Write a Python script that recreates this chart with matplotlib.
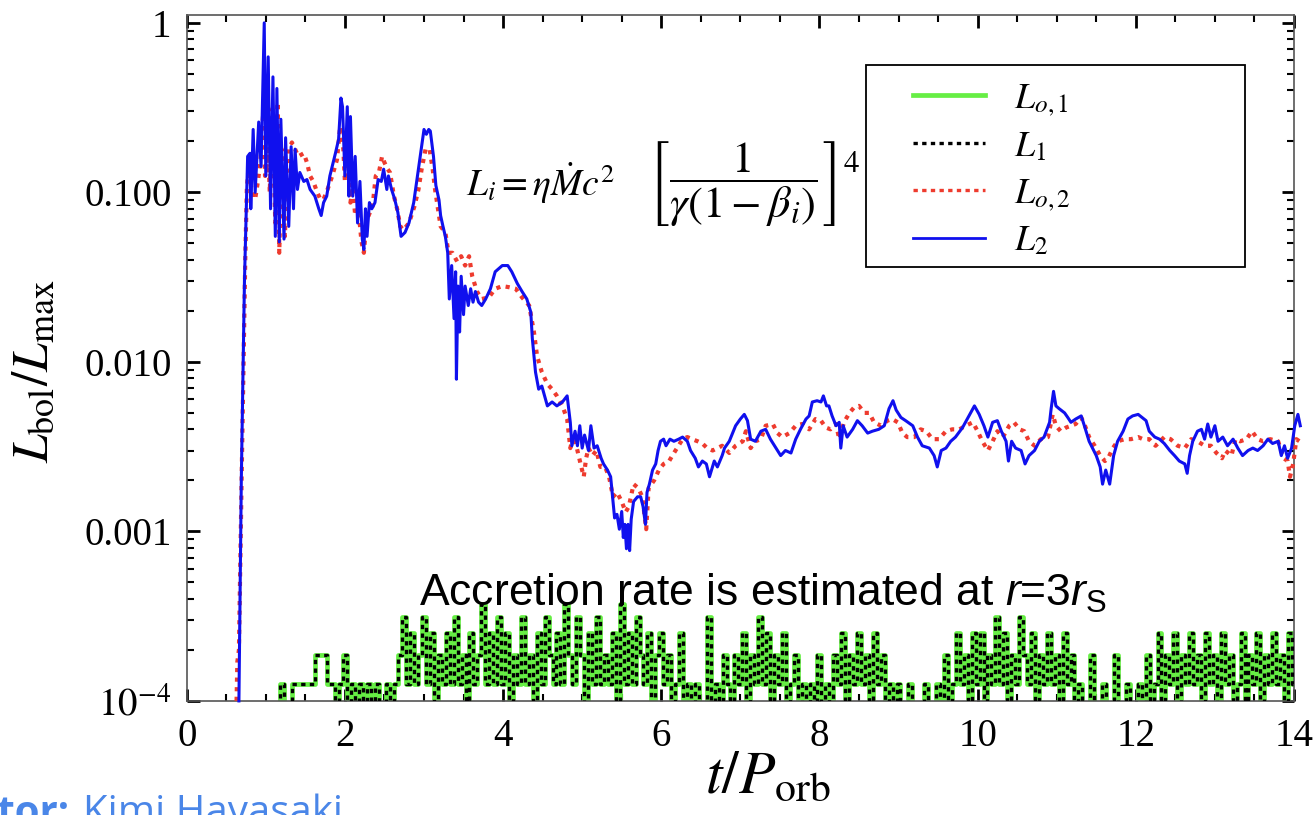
import numpy as np
import matplotlib
matplotlib.use("Agg")
import matplotlib.pyplot as plt
from matplotlib.ticker import MultipleLocator, FixedLocator, FixedFormatter, LogLocator, NullFormatter
from matplotlib.lines import Line2D
from matplotlib.patches import Rectangle

plt.rcParams["font.family"] = "Liberation Serif"
plt.rcParams["mathtext.fontset"] = "stix"
plt.rcParams["mathtext.rm"] = "Liberation Sans"
plt.rcParams["mathtext.it"] = "Liberation Sans:italic"

# L2 (blue)
t_L2 = [0.66, 0.69, 0.73, 0.77, 0.80, 0.81, 0.84, 0.865, 0.91, 0.94, 0.98, 1.00, 1.03, 1.06, 1.09,
        1.12, 1.14, 1.17, 1.19, 1.23, 1.25, 1.29, 1.32, 1.35, 1.37, 1.40, 1.43, 1.48, 1.52, 1.56,
        1.62, 1.67, 1.70, 1.73, 1.77, 1.81, 1.88, 1.92, 1.95, 1.97, 2.00, 2.03, 2.05, 2.07, 2.10,
        2.13, 2.16, 2.19, 2.22, 2.24, 2.26, 2.28, 2.31, 2.34, 2.38, 2.42, 2.46, 2.49, 2.53, 2.55,
        2.59, 2.63, 2.67, 2.71, 2.76, 2.81, 2.87, 2.93, 3.00, 3.03, 3.06, 3.08, 3.12, 3.15, 3.19,
        3.21, 3.24, 3.27, 3.30, 3.32, 3.35, 3.38, 3.40, 3.41, 3.43, 3.45, 3.47, 3.50, 3.52, 3.56,
        3.59, 3.62, 3.65, 3.69, 3.73, 3.78, 3.84, 3.90, 3.99, 4.06, 4.11, 4.18, 4.24, 4.30, 4.35,
        4.37, 4.41, 4.45, 4.49, 4.56, 4.62, 4.68, 4.75, 4.81, 4.85, 4.87, 4.91, 4.94, 4.97, 5.00,
        5.03, 5.08, 5.11, 5.15, 5.19, 5.24, 5.27, 5.32, 5.36, 5.39, 5.41, 5.44, 5.47, 5.50, 5.52,
        5.54, 5.56, 5.58, 5.60, 5.62, 5.65, 5.70, 5.74, 5.77, 5.80, 5.82, 5.85, 5.89, 5.93, 5.96,
        5.99, 6.03, 6.06, 6.11, 6.16, 6.22, 6.27, 6.33, 6.37, 6.43, 6.47, 6.52, 6.57, 6.61, 6.67,
        6.71, 6.77, 6.80, 6.86, 6.94, 7.00, 7.05, 7.09, 7.13, 7.19, 7.26, 7.32, 7.38, 7.45, 7.51,
        7.57, 7.64, 7.70, 7.76, 7.83, 7.87, 7.91, 7.97, 8.02, 8.05, 8.09, 8.12, 8.16, 8.21, 8.25,
        8.27, 8.30, 8.35, 8.42, 8.48, 8.54, 8.61, 8.67, 8.75, 8.82, 8.88, 8.93, 8.97, 9.03, 9.09,
        9.18, 9.24, 9.30, 9.39, 9.45, 9.49, 9.54, 9.60, 9.66, 9.72, 9.81, 9.89, 9.96, 10.02, 10.08,
        10.13, 10.19, 10.25, 10.30, 10.36, 10.39, 10.43, 10.48, 10.55, 10.60, 10.65, 10.72, 10.78, 10.84, 10.91,
        10.93, 10.96, 10.99, 11.03, 11.10, 11.14, 11.18, 11.24, 11.31, 11.35, 11.41, 11.50, 11.55, 11.58, 11.62,
        11.67, 11.72, 11.77, 11.84, 11.90, 11.96, 12.03, 12.08, 12.13, 12.17, 12.24, 12.30, 12.36, 12.43, 12.49,
        12.55, 12.62, 12.65, 12.68, 12.72, 12.78, 12.83, 12.87, 12.91, 12.95, 13.00, 13.04, 13.10, 13.16, 13.23,
        13.29, 13.35, 13.42, 13.48, 13.54, 13.61, 13.67, 13.73, 13.80, 13.84, 13.88, 13.92, 13.97, 14.01, 14.05,
        14.08]
L2 = [1.0e-4, 0.002, 0.03, 0.163, 0.17, 0.08, 0.235, 0.10, 0.26, 0.142, 1.0, 0.125, 0.63, 0.08, 0.48,
      0.055, 0.41, 0.051, 0.27, 0.053, 0.21, 0.063, 0.186, 0.08, 0.18, 0.104, 0.131, 0.116, 0.119, 0.104,
      0.095, 0.080, 0.073, 0.087, 0.095, 0.125, 0.17, 0.205, 0.36, 0.32, 0.125, 0.32, 0.095, 0.28, 0.095,
      0.163, 0.066, 0.116, 0.053, 0.046, 0.08, 0.055, 0.087, 0.08, 0.087, 0.119, 0.116, 0.137, 0.104, 0.125,
      0.104, 0.091, 0.076, 0.055, 0.058, 0.066, 0.087, 0.137, 0.235, 0.22, 0.235, 0.23, 0.163, 0.11, 0.09,
      0.073, 0.063, 0.055, 0.044, 0.0235, 0.037, 0.018, 0.034, 0.0079, 0.028, 0.015, 0.032, 0.019, 0.028, 0.0215,
      0.027, 0.0225, 0.026, 0.0225, 0.0215, 0.0235, 0.027, 0.034, 0.037, 0.037, 0.034, 0.029, 0.026, 0.0235, 0.0197,
      0.0137, 0.0087, 0.0069, 0.0072, 0.0055, 0.0058, 0.0055, 0.0058, 0.0063, 0.0044, 0.0032, 0.0039, 0.0032, 0.0042, 0.0031,
      0.0037, 0.0030, 0.0042, 0.0031, 0.0032, 0.0027, 0.0025, 0.0023, 0.0021, 0.0015, 0.0012, 0.00126, 0.00103, 0.00131, 0.00092,
      0.0011, 0.00079, 0.0011, 0.00077, 0.00118, 0.0015, 0.0016, 0.0016, 0.0014, 0.0011, 0.0017, 0.0019, 0.0023, 0.0025, 0.0030,
      0.0034, 0.0035, 0.0032, 0.0035, 0.0034, 0.0035, 0.0036, 0.0034, 0.0030, 0.0027, 0.0024, 0.0026, 0.0025, 0.0021, 0.0026,
      0.0024, 0.0028, 0.0031, 0.0034, 0.0042, 0.0046, 0.0049, 0.0045, 0.0035, 0.0034, 0.0039, 0.0040, 0.0035, 0.0031, 0.0028,
      0.0030, 0.0029, 0.0035, 0.0040, 0.0046, 0.0048, 0.0058, 0.0059, 0.0058, 0.0063, 0.0055, 0.0055, 0.0048, 0.0042, 0.0044,
      0.0031, 0.0042, 0.0036, 0.0040, 0.0045, 0.0042, 0.0038, 0.0039, 0.0040, 0.0042, 0.0053, 0.0059, 0.0052, 0.0047, 0.0045,
      0.0042, 0.0036, 0.0032, 0.0031, 0.0028, 0.0024, 0.0030, 0.0031, 0.0034, 0.0036, 0.0041, 0.0048, 0.0055, 0.0049, 0.0042,
      0.0036, 0.0044, 0.0045, 0.0039, 0.0034, 0.0026, 0.0034, 0.0031, 0.0030, 0.0025, 0.0028, 0.0030, 0.0034, 0.0036, 0.0044,
      0.0053, 0.0067, 0.0055, 0.0053, 0.0050, 0.0047, 0.0044, 0.0046, 0.0048, 0.0042, 0.0034, 0.0028, 0.0024, 0.0019, 0.0023,
      0.0019, 0.0028, 0.0034, 0.0039, 0.0046, 0.0048, 0.0049, 0.0047, 0.0045, 0.0039, 0.0036, 0.0035, 0.0033, 0.0030, 0.0028,
      0.0026, 0.0025, 0.0022, 0.0028, 0.0034, 0.0039, 0.0040, 0.0035, 0.0043, 0.0036, 0.0042, 0.0034, 0.0036, 0.0032, 0.0035,
      0.0031, 0.0028, 0.0030, 0.0031, 0.0030, 0.0032, 0.0035, 0.0033, 0.0034, 0.0028, 0.0032, 0.0027, 0.0031, 0.0042, 0.0049,
      0.0042]

# L_o,2 (red dashed)
t_Lo2 = [0.63, 0.64, 0.66, 0.70, 0.74, 0.76, 0.78, 0.82, 0.865, 0.90, 0.93, 0.97, 0.99, 1.03, 1.05,
         1.08, 1.12, 1.15, 1.17, 1.20, 1.24, 1.29, 1.33, 1.37, 1.41, 1.48, 1.52, 1.56, 1.60, 1.65,
         1.69, 1.73, 1.78, 1.84, 1.90, 1.94, 1.98, 2.00, 2.04, 2.07, 2.10, 2.13, 2.17, 2.21, 2.24,
         2.27, 2.30, 2.35, 2.39, 2.43, 2.47, 2.50, 2.54, 2.57, 2.62, 2.66, 2.70, 2.74, 2.81, 2.88,
         2.93, 2.97, 3.02, 3.07, 3.11, 3.14, 3.21, 3.27, 3.31, 3.36, 3.42, 3.47, 3.52, 3.57, 3.61,
         3.67, 3.73, 3.82, 3.90, 3.99, 4.07, 4.16, 4.24, 4.33, 4.39, 4.43, 4.49, 4.56, 4.62, 4.68,
         4.75, 4.81, 4.85, 4.89, 4.94, 4.98, 5.02, 5.05, 5.08, 5.13, 5.18, 5.23, 5.29, 5.34, 5.39,
         5.44, 5.50, 5.55, 5.59, 5.65, 5.71, 5.76, 5.81, 5.84, 5.91, 5.97, 6.03, 6.10, 6.14, 6.20,
         6.27, 6.33, 6.39, 6.46, 6.52, 6.58, 6.65, 6.71, 6.77, 6.86, 6.94, 7.03, 7.07, 7.13, 7.19,
         7.26, 7.32, 7.41, 7.47, 7.53, 7.62, 7.70, 7.78, 7.87, 7.95, 8.02, 8.08, 8.14, 8.21, 8.25,
         8.31, 8.38, 8.44, 8.50, 8.57, 8.63, 8.69, 8.78, 8.86, 8.92, 8.99, 9.05, 9.11, 9.20, 9.28,
         9.35, 9.43, 9.51, 9.60, 9.68, 9.77, 9.85, 9.94, 10.00, 10.06, 10.13, 10.19, 10.25, 10.32, 10.40,
         10.46, 10.53, 10.59, 10.65, 10.72, 10.80, 10.89, 10.95, 10.99, 11.05, 11.12, 11.18, 11.24, 11.31, 11.35,
         11.41, 11.48, 11.55, 11.61, 11.65, 11.71, 11.77, 11.86, 11.94, 12.03, 12.09, 12.17, 12.25, 12.36, 12.44,
         12.53, 12.62, 12.70, 12.78, 12.87, 12.95, 13.02, 13.09, 13.13, 13.21, 13.26, 13.32, 13.40, 13.47, 13.54,
         13.61, 13.70, 13.80, 13.87, 13.92, 13.95, 13.99, 14.03, 14.07]
Lo2 = [1.0e-4, 1.7e-4, 2.0e-4, 0.003, 0.04, 0.104, 0.137, 0.104, 0.091, 0.116, 0.15, 0.31, 0.125, 0.18, 0.10,
       0.31, 0.066, 0.34, 0.044, 0.18, 0.055, 0.18, 0.197, 0.18, 0.163, 0.17, 0.15, 0.125, 0.116, 0.10,
       0.091, 0.091, 0.104, 0.125, 0.156, 0.245, 0.18, 0.116, 0.163, 0.087, 0.108, 0.073, 0.08, 0.051, 0.044,
       0.066, 0.073, 0.083, 0.125, 0.131, 0.163, 0.15, 0.137, 0.131, 0.095, 0.08, 0.063, 0.06, 0.066, 0.083,
       0.104, 0.137, 0.18, 0.18, 0.137, 0.104, 0.063, 0.058, 0.044, 0.044, 0.039, 0.042, 0.037, 0.042, 0.032,
       0.026, 0.0235, 0.024, 0.027, 0.028, 0.0276, 0.027, 0.024, 0.0215, 0.015, 0.0108, 0.0087, 0.0074, 0.0069, 0.0063,
       0.0055, 0.0046, 0.0031, 0.0037, 0.0030, 0.0025, 0.0021, 0.0027, 0.0031, 0.0028, 0.0030, 0.0024, 0.0024, 0.0021, 0.0016,
       0.0017, 0.0015, 0.0013, 0.0014, 0.0019, 0.0018, 0.0016, 0.00103, 0.0018, 0.0020, 0.0023, 0.0025, 0.0026, 0.0028, 0.0031,
       0.0035, 0.0036, 0.0035, 0.0034, 0.0033, 0.0031, 0.0030, 0.0031, 0.0032, 0.0029, 0.0032, 0.0034, 0.0039, 0.0031, 0.0034,
       0.0035, 0.0042, 0.0043, 0.0038, 0.0036, 0.0038, 0.0042, 0.0043, 0.0040, 0.0046, 0.0045, 0.0041, 0.0040, 0.0043, 0.0035,
       0.0044, 0.0050, 0.0054, 0.0055, 0.0050, 0.0050, 0.0044, 0.0042, 0.0045, 0.0046, 0.0044, 0.0038, 0.0036, 0.0036, 0.0040,
       0.0039, 0.0035, 0.0035, 0.0039, 0.0040, 0.0040, 0.0042, 0.0044, 0.0039, 0.0034, 0.0030, 0.0034, 0.0039, 0.0036, 0.0042,
       0.0044, 0.0040, 0.0039, 0.0034, 0.0032, 0.0035, 0.0036, 0.0049, 0.0042, 0.0039, 0.0041, 0.0042, 0.0043, 0.0047, 0.0043,
       0.0036, 0.0032, 0.0028, 0.0026, 0.0027, 0.0031, 0.0034, 0.0035, 0.0035, 0.0036, 0.0035, 0.0035, 0.0032, 0.0036, 0.0035,
       0.0032, 0.0031, 0.0035, 0.0034, 0.0032, 0.0032, 0.0029, 0.0027, 0.0030, 0.0028, 0.0035, 0.0034, 0.0035, 0.0039, 0.0035,
       0.0034, 0.0035, 0.0034, 0.0027, 0.0026, 0.0021, 0.0025, 0.0035, 0.0034]

# L_o,1 and L_1 (green / black dashed): quantized accretion, in units of 0.625e-4, every 0.05 from t=1.00
t_acc_start, t_acc_step, acc_unit = 1.00, 0.05, 0.625e-4
acc_levels = [1, 1, 1, 1, 2, 1, 1, 2, 2, 2, 2, 2, 2, 3, 3, 3, 2, 2, 1, 2,
              3, 1, 2, 1, 2, 1, 2, 1, 2, 1, 1, 2, 1, 2, 3, 5, 2, 4, 2, 3,
              5, 2, 4, 1, 3, 2, 4, 2, 5, 2, 3, 1, 4, 2, 3, 6, 2, 4, 2, 5,
              2, 4, 1, 3, 2, 5, 2, 3, 1, 4, 2, 5, 3, 2, 4, 2, 6, 3, 2, 5,
              3, 1, 4, 2, 5, 2, 3, 2, 4, 1, 6, 2, 4, 2, 5, 3, 2, 4, 1, 3,
              4, 2, 3, 1, 2, 4, 1, 2, 1, 2, 1, 1, 5, 1, 2, 1, 3, 2, 1, 3,
              2, 4, 1, 3, 2, 5, 2, 4, 1, 3, 2, 4, 1, 2, 3, 1, 2, 1, 2, 1,
              3, 1, 2, 1, 3, 2, 4, 1, 3, 2, 4, 2, 3, 1, 4, 2, 3, 1, 2, 1,
              2, 1, 1, 2, 1, 1, 1, 2, 1, 1, 2, 1, 3, 1, 2, 4, 2, 3, 1, 4,
              2, 4, 1, 3, 2, 5, 2, 4, 1, 3, 2, 5, 3, 2, 4, 1, 3, 2, 4, 2,
              3, 1, 4, 2, 3, 1, 2, 1, 1, 3, 1, 1, 2, 1, 1, 3, 1, 1, 2, 1,
              1, 2, 1, 3, 1, 2, 4, 1, 3, 2, 4, 1, 3, 2, 4, 2, 3, 1, 4, 2,
              3, 1, 4, 2, 3, 1, 2, 4, 1, 3, 2, 4, 1, 3, 2, 4, 2, 3, 1, 4,
              2]

t_acc = t_acc_start + t_acc_step * np.arange(len(acc_levels))
L_acc = np.array(acc_levels) * acc_unit

y_ticks = [1e-4, 1e-3, 1e-2, 1e-1, 1.0]
y_ticklabels = [r"$10^{-4}$", "0.001", "0.010", "0.100", "1"]

fig = plt.figure(figsize=(13.15, 8.15), dpi=100)
ax = fig.add_axes([0.142, 0.140, 0.842, 0.8414])

ax.plot(t_acc, L_acc, color="#66ee44", lw=3.4, drawstyle="steps-mid", zorder=2)
ax.plot(t_acc, L_acc, color="black", lw=2.4, ls=(0, (1.3, 1.3)), drawstyle="steps-mid", zorder=3)
ax.plot(t_Lo2, Lo2, color="#ee3b2e", lw=3.0, ls=(0, (1.0, 1.3)), zorder=4, clip_on=False)
ax.plot(t_L2, L2, color="#1010ee", lw=2.2, zorder=5, clip_on=False)

ax.set_yscale("log")
ax.set_xlim(0, 14)
ax.set_ylim(1e-4, 1.11)

ax.xaxis.set_major_locator(MultipleLocator(2))
ax.xaxis.set_minor_locator(MultipleLocator(0.5))
ax.yaxis.set_major_locator(FixedLocator(y_ticks))
ax.yaxis.set_major_formatter(FixedFormatter(y_ticklabels))
ax.yaxis.set_minor_locator(LogLocator(base=10, subs=np.arange(2, 10), numticks=20))
ax.yaxis.set_minor_formatter(NullFormatter())

ax.tick_params(which="both", direction="in", top=True, right=True, labelsize=28)
ax.tick_params(axis="x", pad=12)
ax.tick_params(axis="y", pad=11)
ax.tick_params(which="major", length=9, width=2)
ax.tick_params(which="minor", length=5, width=1.5)
for s in ax.spines.values():
    s.set_color("#555555")
    s.set_linewidth(1.2)

ax.set_xlabel(r"$t/P_{\rm orb}$", fontsize=43)
ax.xaxis.set_label_coords(0.525, -0.074)
ax.set_ylabel(r"$L_{\rm bol}/L_{\rm max}$", fontsize=37)
ax.yaxis.set_label_coords(-0.115, 0.48)

ax.text(0.252, 0.755, r"$L_i = \eta \dot{M} c^2$",
        transform=ax.transAxes, fontsize=27, va="center", ha="left")
ax.text(0.417, 0.755, r"$\left[\dfrac{1}{\gamma(1-\beta_i)}\right]^4$",
        transform=ax.transAxes, fontsize=32, va="center", ha="left")

ax.text(0.21, 0.1385, r"Accretion rate is estimated at $\mathit{r}$=3$\mathit{r}_{\mathrm{S}}$",
        transform=ax.transAxes, fontsize=32, family="Liberation Sans", va="baseline", ha="left",
        math_fontfamily="custom")

# legend: frame drawn as a box, entries placed inside it
ax.add_patch(Rectangle((0.6134, 0.6327), 0.3423, 0.2943, transform=ax.transAxes,
                       fill=True, facecolor="white", edgecolor="black", lw=1.3, zorder=6))
handles = [Line2D([], [], color="#66ee44", lw=3.4),
           Line2D([], [], color="black", lw=2.4, ls=(0, (1.3, 1.3))),
           Line2D([], [], color="#ee3b2e", lw=2.4, ls=(0, (1.3, 1.3))),
           Line2D([], [], color="#1010ee", lw=2.0)]
labels = [r"$L_{o,1}$", r"$L_1$", r"$L_{o,2}$", r"$L_2$"]
leg = ax.legend(handles, labels, loc="upper left", bbox_to_anchor=(0.656, 0.902),
                fontsize=26, frameon=False, handlelength=2.0, handletextpad=0.8,
                borderpad=0, labelspacing=0.35, borderaxespad=0)
leg.set_zorder(7)

fig.text(0.053, -0.011, "Contributor:", fontsize=29, family="Open Sans", weight="bold",
         color="#4a86e8", ha="right", va="baseline")
fig.text(0.063, -0.011, "Kimi Hayasaki", fontsize=29, family="Open Sans",
         color="#4a86e8", ha="left", va="baseline")

fig.savefig("out.png", dpi=100)
